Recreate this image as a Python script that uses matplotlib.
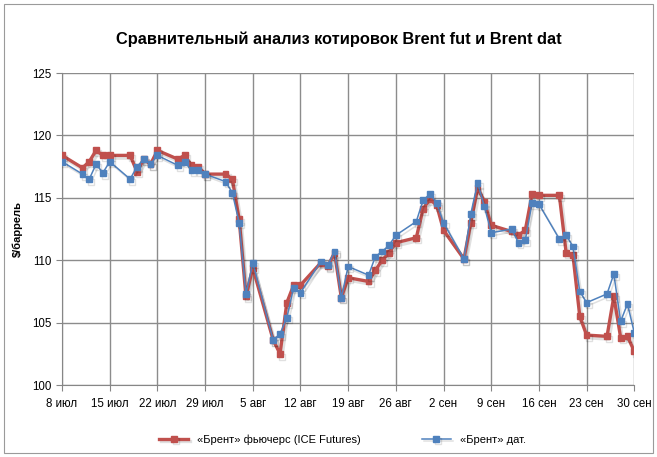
import matplotlib
matplotlib.use("Agg")
import matplotlib.pyplot as plt
import matplotlib.patheffects as pe
import pandas as pd
from matplotlib.patches import Rectangle

plt.rcParams['font.family'] = ['Liberation Sans', 'DejaVu Sans']

# trading days 8 Jul - 30 Sep 2011
dates = pd.bdate_range("2011-07-08", "2011-09-30")

futures = [118.4, 117.4, 117.9, 118.8, 118.4, 118.4, 118.4, 117.1, 118.1, 117.7,
           118.8, 118.1, 118.4, 117.6, 117.5, 116.9, 116.9, 116.5, 113.3, 107.1,
           109.4, 103.6, 102.5, 106.6, 108.0, 108.0, 109.8, 109.5, 110.6, 107.0,
           108.6, 108.3, 109.2, 110.0, 110.6, 111.4, 111.8, 114.1, 114.9, 114.4,
           112.4, 110.1, 113.0, 115.8, 114.7, 112.8, 112.3, 112.0, 112.4, 115.3,
           115.2, 115.2, 110.6, 110.4, 105.5, 104.0, 103.9, 107.1, 103.8, 103.9,
           102.7]
dated = [117.9, 116.9, 116.5, 117.7, 117.0, 117.9, 116.5, 117.5, 118.1, 117.7,
         118.4, 117.6, 117.9, 117.2, 117.2, 116.9, 116.3, 115.4, 113.0, 107.3,
         109.8, 103.6, 104.1, 105.4, 107.8, 107.4, 109.9, 109.6, 110.7, 107.0,
         109.5, 108.8, 110.3, 110.7, 111.2, 112.0, 113.1, 114.8, 115.3, 114.6,
         113.0, 110.1, 113.7, 116.2, 114.3, 112.2, 112.5, 111.4, 111.6, 114.6,
         114.5, 111.7, 112.0, 111.1, 107.5, 106.6, 107.3, 108.9, 105.1, 106.5,
         104.2]

tick_dates = pd.date_range("2011-07-08", "2011-09-30", freq="7D")
tick_labels = ["8 июл", "15 июл", "22 июл", "29 июл", "5 авг", "12 авг", "19 авг",
               "26 авг", "2 сен", "9 сен", "16 сен", "23 сен", "30 сен"]

title = "Сравнительный анализ котировок Brent fut и Brent dat"
ylabel = "$/баррель"
label_fut = "«Брент» фьючерс (ICE Futures)"
label_dat = "«Брент» дат."

fig = plt.figure(figsize=(6.57, 4.57), dpi=100)
fig.patches.append(Rectangle((0.006, 0.008), 0.988, 0.984, transform=fig.transFigure,
                             fill=False, edgecolor="#9a9a9a", linewidth=0.8))
ax = fig.add_axes([0.0944, 0.1575, 0.871, 0.6827])

shadow = [pe.SimpleLineShadow(offset=(1.5, -2), alpha=0.12, shadow_color="black"), pe.Normal()]
ax.plot(dates, futures, color="#C0504D", lw=2.4, marker="s", ms=4.2,
        label=label_fut, path_effects=shadow, zorder=3)
ax.plot(dates, dated, color="#4F81BD", lw=1.1, marker="s", ms=4.2,
        label=label_dat, path_effects=shadow, zorder=4)

ax.set_xlim(tick_dates[0], tick_dates[-1])
ax.set_ylim(100, 125)
ax.set_yticks(range(100, 126, 5))
ax.set_xticks(tick_dates)
ax.set_xticklabels(tick_labels)
ax.tick_params(axis="both", labelsize=8.3, length=4, color="#868686")
ax.tick_params(axis="x", pad=5)
ax.grid(True, color="#8c8c8c", lw=1)
for s in ax.spines.values():
    s.set_visible(False)
ax.spines["left"].set_visible(True)
ax.spines["bottom"].set_visible(True)
ax.spines["left"].set_color("#868686")
ax.spines["bottom"].set_color("#868686")

ax.set_ylabel(ylabel, fontsize=8, fontweight="bold", labelpad=7)
fig.text(0.515, 0.915, title, ha="center", va="center", fontsize=11.8, fontweight="bold")

ax.legend(loc="upper center", bbox_to_anchor=(0.49, -0.125), ncol=2, frameon=False,
          fontsize=8, columnspacing=5.5, handlelength=2.6)

fig.savefig("out.png", dpi=100)
